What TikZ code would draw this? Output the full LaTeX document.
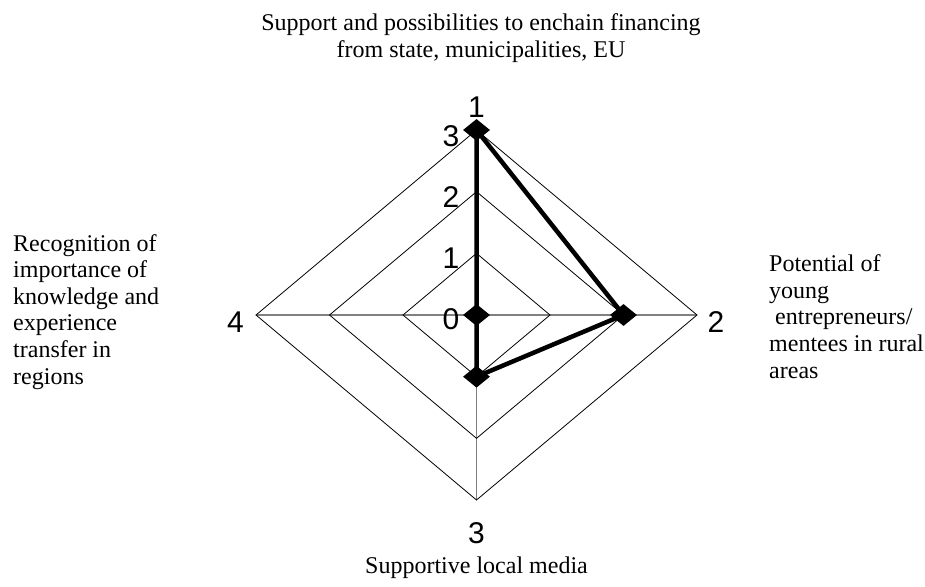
\documentclass[tikz,border=0pt]{standalone}
\usepackage{fontspec}
\setmainfont{Liberation Serif}
\newfontfamily\numfont{Liberation Sans}
\usetikzlibrary{shapes.geometric,calc}
\begin{document}
\begin{tikzpicture}[x=1pt,y=-1pt,
  lbl/.style={font=\fontsize{24}{26.6}\selectfont, inner sep=0pt},
  num/.style={font=\numfont\fontsize{30}{36}\selectfont, inner sep=0pt, anchor=base},
  tick/.style={font=\numfont\fontsize{30}{36}\selectfont, inner sep=0pt, anchor=base east},
  gridline/.style={black, line width=0.8pt},
  spoke/.style={black!50, line width=1.2pt},
  series/.style={black, line width=4.5pt, line join=round},
  marker/.style={diamond, fill=black, draw=none, minimum width=27pt, minimum height=22pt, inner sep=0pt}]
\useasboundingbox (0,0) rectangle (925,586);
\coordinate (C) at (476.5,315);
\coordinate (T) at (476.5,130);
\coordinate (R) at (697,315);
\coordinate (B) at (476.5,500);
\coordinate (L) at (256,315);
% spokes
\foreach \v in {T,R,B,L} \draw[spoke] (C) -- (\v);
% grid diamonds
\foreach \f in {1,2,3}
  \draw[gridline] ($(C)!{\f/3}!(T)$) -- ($(C)!{\f/3}!(R)$) -- ($(C)!{\f/3}!(B)$) -- ($(C)!{\f/3}!(L)$) -- cycle;
% data
\node[marker] (d1) at (T) {};
\node[marker] (d2) at ($(C)!{2/3}!(R)$) {};
\node[marker] (d3) at ($(C)!{1/3}!(B)$) {};
\node[marker] (d4) at (C) {};
\draw[series] (d1.center) -- (d2.center) -- (d3.center) -- (d4.center) -- cycle;
% tick labels
\node[tick] (t0) at (459.5,329) {0};
\node[tick] (t1) at (459.5,268) {1};
\node[tick] (t2) at (459.5,207) {2};
\node[tick] (t3) at (459.5,146) {3};
% axis numbers
\node[num] (a1) at (476.5,117.5) {1};
\node[num] (a2) at (716,332) {2};
\node[num] (a3) at (476.5,543) {3};
\node[num] (a4) at (235.5,332) {4};
% axis labels (base anchor = baseline of last line)
\node[lbl, anchor=base, align=center] (lt) at (481,57.6) {Support and possibilities to enchain financing\\from state, municipalities, EU};
\node[lbl, anchor=base west, align=left] (lr) at (769,378) {Potential of\\young\\\hspace*{0.25em}entrepreneurs/\\mentees in rural\\areas};
\node[lbl, anchor=base] (lb) at (476.5,573) {Supportive local media};
\node[lbl, anchor=base west, align=left] (ll) at (13,384) {Recognition of\\importance of\\knowledge and\\experience\\transfer in\\regions};
\end{tikzpicture}
\end{document}
